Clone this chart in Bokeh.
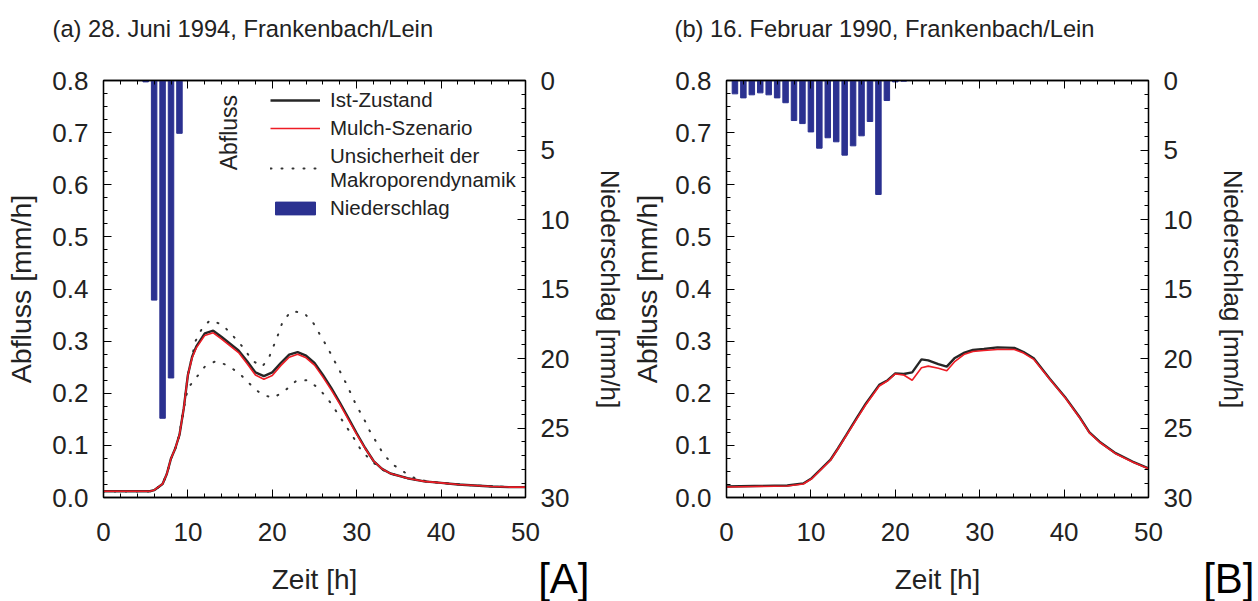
import numpy as np
from bokeh.plotting import figure
from bokeh.models import (Range1d, LinearAxis, Label, Legend, LegendItem, Title,
                          NumeralTickFormatter, SingleIntervalTicker)
from bokeh.layouts import row
from bokeh.embed import file_html
from bokeh.resources import INLINE

# ---------------- data: panel (a) 28. Juni 1994 ----------------
a_t = [0, 5.5, 6, 7, 7.5, 8, 8.5, 9, 9.5, 10, 10.5, 11, 12, 13, 14, 15, 16, 17, 18, 19,
       20, 21, 22, 23, 24, 25, 26, 27, 28, 29, 30, 31, 32, 33, 34, 36, 38, 40, 42, 44,
       46, 48, 50]
a_ist = [0.012, 0.012, 0.014, 0.026, 0.045, 0.075, 0.094, 0.12, 0.17, 0.235, 0.27, 0.29,
         0.315, 0.320, 0.308, 0.295, 0.282, 0.262, 0.240, 0.233, 0.240, 0.258, 0.274,
         0.279, 0.272, 0.258, 0.235, 0.210, 0.182, 0.153, 0.123, 0.095, 0.070, 0.055,
         0.046, 0.037, 0.031, 0.028, 0.025, 0.023, 0.021, 0.020, 0.020]
a_mulch = [0.012, 0.012, 0.014, 0.026, 0.045, 0.075, 0.094, 0.12, 0.17, 0.235, 0.268,
           0.287, 0.311, 0.316, 0.304, 0.291, 0.278, 0.257, 0.235, 0.227, 0.234, 0.253,
           0.269, 0.275, 0.268, 0.254, 0.231, 0.206, 0.179, 0.150, 0.121, 0.094, 0.070,
           0.055, 0.046, 0.037, 0.031, 0.028, 0.025, 0.023, 0.021, 0.020, 0.020]
a_up_t = [0, 5.5, 6, 7, 7.5, 8, 8.5, 9, 9.5, 10, 10.9, 11.6, 12.6, 14.05, 15.4, 16.6, 17.6,
          18.8, 19.6, 20.7, 21.2, 22.2, 23.7, 24.85, 25.7, 26.5, 27.2, 27.95, 28.65,
          29.35, 30.0, 30.8, 31.5, 32.3, 33.1, 34.2, 35.7, 37.2, 40, 44, 48, 50]
a_up = [0.012, 0.012, 0.014, 0.026, 0.045, 0.075, 0.094, 0.12, 0.17, 0.235, 0.300, 0.322,
        0.340, 0.332, 0.309, 0.287, 0.263, 0.251, 0.268, 0.313, 0.336, 0.357, 0.355,
        0.335, 0.311, 0.289, 0.267, 0.244, 0.222, 0.198, 0.175, 0.153, 0.129, 0.107,
        0.085, 0.064, 0.048, 0.034, 0.028, 0.023, 0.020, 0.020]
a_lo_t = [0, 5.5, 6, 7, 7.5, 8, 8.5, 9, 9.5, 10, 10.9, 12.0, 13.35, 14.75, 16.1, 17.45,
          18.7, 20.1, 21.5, 22.85, 24.25, 25.65, 26.8, 27.75, 28.65, 29.55, 30.4, 31.6,
          32.95, 34, 36, 38, 40, 44, 48, 50]
a_lo = [0.012, 0.012, 0.014, 0.026, 0.045, 0.075, 0.094, 0.12, 0.17, 0.21, 0.228, 0.251,
        0.262, 0.253, 0.238, 0.216, 0.198, 0.191, 0.205, 0.224, 0.225, 0.207, 0.184,
        0.161, 0.139, 0.117, 0.094, 0.072, 0.054, 0.046, 0.037, 0.031, 0.028, 0.023,
        0.020, 0.020]
a_rain_t = [5, 6, 7, 8, 9]
a_rain = [0.1, 15.8, 24.3, 21.4, 3.8]

# ---------------- data: panel (b) 16. Februar 1990 ----------------
b_t = [0, 3.3, 7.2, 9.1, 10.1, 11.1, 12.3, 13.2, 14.2, 15.4, 16.5, 18.1, 19.1, 20.0,
       21.0, 22.0, 23.1, 23.9, 25.1, 26.1, 27.0, 28.2, 29.2, 30.5, 32.1, 34.1, 35.2,
       36.4, 38.3, 40.1, 41.8, 43.0, 44.2, 46.1, 48.1, 50]
b_ist = [0.021, 0.022, 0.023, 0.027, 0.037, 0.053, 0.072, 0.094, 0.120, 0.152, 0.180,
         0.216, 0.225, 0.238, 0.237, 0.240, 0.265, 0.263, 0.256, 0.251, 0.267, 0.278,
         0.283, 0.285, 0.288, 0.287, 0.279, 0.267, 0.228, 0.193, 0.155, 0.125, 0.107,
         0.085, 0.069, 0.056]
b_mulch = [0.020, 0.021, 0.022, 0.026, 0.036, 0.052, 0.071, 0.093, 0.119, 0.150, 0.178,
           0.214, 0.224, 0.237, 0.235, 0.225, 0.249, 0.252, 0.248, 0.243, 0.260, 0.275,
           0.280, 0.282, 0.284, 0.284, 0.277, 0.265, 0.227, 0.192, 0.154, 0.124, 0.106,
           0.084, 0.068, 0.055]
b_rain_t = [1, 2, 3, 4, 5, 6, 7, 8, 9, 10, 11, 12, 13, 14, 15, 16, 17, 18, 19, 20, 21]
b_rain = [0.96, 1.25, 1.03, 0.89, 1.03, 1.25, 1.6, 2.88, 3.1, 3.7, 4.87, 4.12, 4.41,
          5.37, 4.7, 3.98, 2.95, 8.2, 1.44, 0.1, 0.05]

titles = ["(a) 28. Juni 1994, Frankenbach/Lein", "(b) 16. Februar 1990, Frankenbach/Lein"]
panel_tags = ["[A]", "[B]"]
x_label = "Zeit [h]"
y_label = "Abfluss [mm/h]"
y2_label = "Niederschlag [mm/h]"

FONT = "Liberation Sans"
BAR = "#2b3190"
BLACK = "#262626"
RED = "#ee1c25"
TXT = "#222222"


def style_axis(ax, label_size="27px"):
    ax.major_tick_in = 8
    ax.major_tick_out = 0
    ax.minor_tick_in = 4
    ax.minor_tick_out = 0
    ax.axis_line_color = "black"
    ax.axis_line_width = 1.3
    ax.major_tick_line_color = "black"
    ax.minor_tick_line_color = "black"
    ax.major_label_text_font = FONT
    ax.major_label_text_font_size = "26px"
    ax.major_label_text_color = TXT
    ax.axis_label_text_font = FONT
    ax.axis_label_text_font_size = label_size
    ax.axis_label_text_font_style = "normal"
    ax.axis_label_text_color = TXT


def make_panel(width, bl, br, ylab_standoff, title, title_off, tag, tag_off):
    p = figure(width=width, height=601, x_range=Range1d(0, 50), y_range=Range1d(0, 0.8),
               output_backend="svg", toolbar_location=None,
               min_border_left=bl, min_border_right=br, min_border_top=80,
               min_border_bottom=104)
    p.extra_y_ranges = {"rain": Range1d(30, 0)}
    p.background_fill_color = "white"
    p.border_fill_color = "white"
    p.outline_line_color = "black"
    p.outline_line_width = 1.3
    p.xgrid.visible = False
    p.ygrid.visible = False

    xa = p.xaxis[0]
    xa.ticker = SingleIntervalTicker(interval=10, num_minor_ticks=5)
    xa.axis_label = x_label
    style_axis(xa, "28px")
    xa.major_label_standoff = 25
    xa.axis_label_standoff = 20

    ya = p.yaxis[0]
    ya.ticker = SingleIntervalTicker(interval=0.1, num_minor_ticks=4)
    ya.formatter = NumeralTickFormatter(format="0.0")
    ya.axis_label = y_label
    style_axis(ya, "28.5px")
    ya.major_label_standoff = 15
    ya.axis_label_standoff = ylab_standoff

    # top axis: ticks only
    top = LinearAxis(ticker=SingleIntervalTicker(interval=10, num_minor_ticks=5))
    style_axis(top)
    top.major_label_text_color = None
    top.major_label_standoff = 0
    p.add_layout(top, "above")
    # invisible spacer between frame and title
    spacer = LinearAxis(ticker=SingleIntervalTicker(interval=10, num_minor_ticks=0))
    spacer.axis_line_color = None
    spacer.major_tick_line_color = None
    spacer.minor_tick_line_color = None
    spacer.major_tick_in = 0
    spacer.major_tick_out = 34
    spacer.minor_tick_out = 0
    spacer.major_label_text_color = None
    spacer.major_label_standoff = 0
    p.add_layout(spacer, "above")
    p.add_layout(Title(text=title, text_font=FONT, text_font_size="23.7px",
                       text_font_style="normal", text_color=TXT, align="left",
                       offset=title_off, standoff=10), "above")

    ra = LinearAxis(y_range_name="rain", axis_label=y2_label,
                    ticker=SingleIntervalTicker(interval=5, num_minor_ticks=5))
    style_axis(ra, "26px")
    ra.major_label_standoff = 15
    ra.axis_label_standoff = 23
    p.add_layout(ra, "right")

    p.add_layout(Title(text=tag, text_font=FONT, text_font_size="42px",
                       text_font_style="normal", text_color="black", align="right",
                       vertical_align="top", offset=tag_off, standoff=-86), "below")
    return p


pa = make_panel(628, 103, 96, 12, titles[0], -51, panel_tags[0], -64)
bars_a = pa.vbar(x=a_rain_t, width=0.65, top=0, bottom=a_rain, y_range_name="rain",
                 fill_color=BAR, line_color=BAR)
up_a = pa.line(a_up_t, a_up, line_color="#333333", line_width=2, line_dash="1 10",
               line_cap="round")
pa.line(a_lo_t, a_lo, line_color="#333333", line_width=2, line_dash="1 10", line_cap="round")
ist_a = pa.line(a_t, a_ist, line_color=BLACK, line_width=2.4)
mul_a = pa.line(a_t, a_mulch, line_color=RED, line_width=1.6)
pa.add_layout(Label(x=14.9, y=0.70, text="Abfluss", angle=np.pi / 2, text_font=FONT,
                    text_font_size="23px", text_align="center", text_baseline="middle",
                    text_color=TXT))
legend = Legend(items=[LegendItem(label="Ist-Zustand", renderers=[ist_a]),
                       LegendItem(label="Mulch-Szenario", renderers=[mul_a]),
                       LegendItem(label="Unsicherheit der\nMakroporendynamik", renderers=[up_a]),
                       LegendItem(label="Niederschlag", renderers=[bars_a])],
                location=(167, 277), border_line_color=None, background_fill_alpha=0,
                label_text_font=FONT, label_text_font_size="20.5px", label_text_color=TXT,
                glyph_width=50, glyph_height=16, label_standoff=10, spacing=4,
                padding=0, margin=0)
pa.add_layout(legend)

pb = make_panel(630, 92, 110, 9, titles[1], -52, panel_tags[1], -106)
pb.vbar(x=b_rain_t, width=0.65, top=0, bottom=b_rain, y_range_name="rain",
        fill_color=BAR, line_color=BAR)
pb.line(b_t, b_ist, line_color=BLACK, line_width=2.4)
pb.line(b_t, b_mulch, line_color=RED, line_width=1.6)

layout = row(pa, pb)
open("out.html", "w").write(file_html(layout, INLINE))
